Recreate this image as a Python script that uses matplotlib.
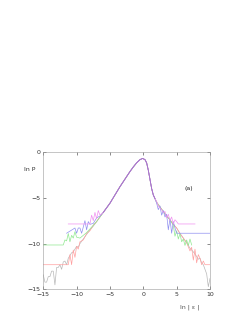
import matplotlib
matplotlib.use("Agg")
import matplotlib.pyplot as plt

# shared central part of the collapse
core_x = [-6, -5.5, -5, -4.5, -4, -3.5, -3, -2.5, -2, -1.5, -1, -0.5, -0.1,
          0.25, 0.5, 0.75, 1.0, 1.25, 1.5, 1.75]
core_y = [-6.6, -6.1, -5.6, -5.0, -4.4, -3.8, -3.25, -2.7, -2.15, -1.65, -1.2, -0.85, -0.72,
          -0.85, -1.2, -2.0, -3.0, -4.0, -4.7, -5.1]
mid_x = [2.0, 2.5, 3.0]
mid_y = [-5.5, -6.0, -6.5]

gray_left_x = [-15, -14.75, -14.5, -14.25, -14, -13.75, -13.5, -13.25, -13, -12.75, -12.5,
               -12.25, -12, -11.75, -11.5, -11.25, -11, -10.75, -10.5, -10.25, -10, -9.75,
               -9.5, -9, -8.5, -8, -7.5, -7, -6.5]
gray_left_y = [-13.4, -14.2, -14.2, -13.6, -13.6, -13.0, -13.0, -14.5, -12.6, -12.6, -12.3,
               -12.8, -12.0, -11.9, -12.3, -11.6, -11.3, -11.0, -10.9, -10.6, -10.3, -10.4,
               -10.0, -9.5, -9.0, -8.5, -8.1, -7.6, -7.1]
gray_right_x = [3.5, 4, 4.5, 5, 5.5, 6, 6.5, 7, 7.5, 8, 8.25, 8.5, 8.75, 9, 9.25, 9.5, 9.75, 10]
gray_right_y = [-7.0, -7.4, -7.9, -8.3, -8.9, -9.4, -9.9, -10.5, -10.9, -11.4, -11.7, -11.6,
                -12.1, -12.3, -12.8, -13.3, -14.7, -13.8]

red_left_x = [-15, -11.25, -11, -10.75, -10.5, -10.25, -10, -9.75, -9.5, -9, -8.5, -8, -7.5,
              -7, -6.5]
red_left_y = [-12.3, -12.3, -11.2, -12.3, -10.7, -11.5, -10.3, -10.6, -9.8, -9.6, -8.9, -8.6,
              -8.0, -7.6, -7.1]
red_right_x = [3.5, 4, 4.5, 5, 5.5, 6, 6.5, 7, 7.25, 7.5, 7.75, 8, 8.25, 8.5, 8.75, 9, 9.25, 10]
red_right_y = [-7.0, -7.4, -7.9, -8.3, -8.9, -9.4, -9.9, -10.8, -10.4, -11.8, -10.6, -12.1,
               -11.2, -11.6, -12.3, -11.9, -12.3, -12.3]

green_left_x = [-15, -12, -11.75, -11.5, -11.25, -11, -10.75, -10.5, -10.25, -10, -9.5, -9,
                -8.5, -8, -7.5, -7, -6.5]
green_left_y = [-10.15, -10.15, -9.6, -9.7, -8.9, -9.8, -9.1, -9.4, -8.7, -9.3, -9.4, -9.1,
                -8.8, -8.4, -8.0, -7.6, -7.1]
green_right_x = [3.5, 4, 4.5, 4.75, 5, 5.25, 5.5, 5.75, 6, 6.25, 6.5, 6.75, 7, 7.25]
green_right_y = [-7.0, -7.4, -8.0, -9.2, -8.6, -9.5, -8.9, -9.8, -9.5, -10.2, -9.6, -10.2,
                 -9.5, -10.15]

blue_left_x = [-11.5, -10.25, -10, -9.75, -9.5, -9.25, -9, -8.75, -8.5, -8.25, -8, -7.5, -7, -6.5]
blue_left_y = [-8.87, -8.3, -8.87, -8.3, -8.3, -8.87, -8.2, -7.5, -8.5, -7.6, -7.9, -7.8, -7.2, -7.0]
blue_right_x = [2.0, 2.25, 2.5, 2.75, 3, 3.25, 3.5, 3.75, 4, 4.25, 4.5, 4.75, 5, 10]
blue_right_y = [-5.6, -6.3, -5.9, -6.9, -6.4, -7.1, -6.8, -8.5, -7.3, -8.87, -7.6, -8.3, -8.87, -8.87]

magenta_left_x = [-11.25, -8, -7.75, -7.5, -7.25, -7, -6.75, -6.5]
magenta_left_y = [-7.86, -7.86, -6.9, -7.5, -6.6, -7.3, -6.4, -6.9]
magenta_right_x = [2.0, 2.25, 2.5, 2.75, 3, 3.25, 3.5, 3.75, 4, 4.25, 4.5, 4.75, 5, 5.25, 7.75]
magenta_right_y = [-5.4, -5.9, -6.1, -6.3, -6.6, -6.5, -7.2, -6.8, -7.5, -7.1, -7.86, -7.4,
                   -7.6, -7.86, -7.86]

series = [
    ("#b8b8b8", gray_left_x + core_x + mid_x + gray_right_x, gray_left_y + core_y + mid_y + gray_right_y),
    ("#ffa0a0", red_left_x + core_x + mid_x + red_right_x, red_left_y + core_y + mid_y + red_right_y),
    ("#90e890", green_left_x + core_x + mid_x + green_right_x, green_left_y + core_y + mid_y + green_right_y),
    ("#9090f0", blue_left_x + core_x + blue_right_x, blue_left_y + core_y + blue_right_y),
    ("#f090f0", magenta_left_x + core_x + magenta_right_x, magenta_left_y + core_y + magenta_right_y),
]

fig = plt.figure(figsize=(2.53, 3.27), dpi=100)
ax = fig.add_axes([0.171, 0.1147, 0.659, 0.421])

for color, xs, ys in series:
    ax.plot(xs, ys, color=color, lw=0.5)
# the overlapping core looks purple where all curves coincide
ax.plot(core_x, core_y, color="#a070c8", lw=0.6)

ax.set_xlim(-15, 10)
ax.set_ylim(-15, 0)
ax.set_xticks([-15, -10, -5, 0, 5, 10])
ax.set_yticks([0, -5, -10, -15])
ax.set_xticklabels(["\u221215", "\u221210", "\u22125", "0", "5", "10"])
ax.set_yticklabels(["0", "\u22125", "\u221210", "\u221215"])
ax.tick_params(direction="in", top=True, right=True, length=2, width=0.4,
               labelsize=4.5, pad=2, colors="#333333")
for s in ax.spines.values():
    s.set_linewidth(0.4)
    s.set_color("#999999")

ax.text(-17.1, -1.9, "ln P", fontsize=4.5, ha="center", va="center", color="#333333")
ax.text(6.85, -3.98, "(a)", fontsize=4.5, ha="center", va="center", color="#222222")
ax.text(6.9, -16.9, "ln | \u03b5 |", fontsize=4.5, ha="center", va="center", color="#555555")

fig.savefig("out.png", dpi=100)
